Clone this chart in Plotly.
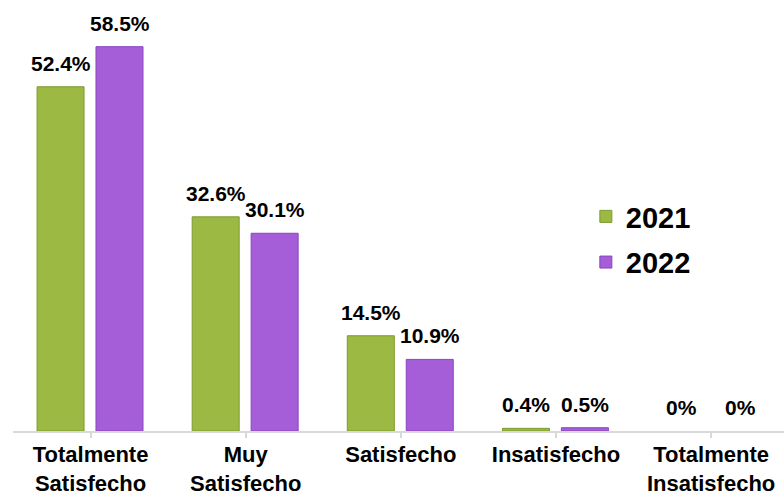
import plotly.graph_objects as go

categories = ["Totalmente<br>Satisfecho", "Muy<br>Satisfecho", "Satisfecho",
              "Insatisfecho", "Totalmente<br>Insatisfecho"]
series_names = ["2021", "2022"]
values_2021 = [52.4, 32.6, 14.5, 0.4, 0.0]
values_2022 = [58.5, 30.1, 10.9, 0.5, 0.0]

colors = ["#9cb944", "#a55ed8"]
lines = ["#7e9a2e", "#8a44c0"]
bar_w = 0.303
offsets = [-0.345, 0.035]
FONT = "Liberation Sans, Arial"

fig = go.Figure()
for name, vals, col, lc, off in zip(series_names, [values_2021, values_2022], colors, lines, offsets):
    fig.add_trace(go.Bar(
        x=list(range(len(categories))), y=vals, name=name, legendgroup=name,
        marker=dict(color=col, line=dict(color=lc, width=[1 if v > 0 else 0 for v in vals])),
        width=bar_w, offset=off,
    ))
    for i, v in enumerate(vals):
        fig.add_annotation(
            x=i + off + bar_w / 2, y=v, xref="x", yref="y",
            text=f"<b>{v:g}%</b>", showarrow=False, yanchor="bottom",
            yshift=10, font=dict(family=FONT, size=21, color="#000000"),
        )

fig.update_layout(
    width=784, height=495,
    margin=dict(l=13, r=0, t=4, b=64, autoexpand=False),
    plot_bgcolor="white", paper_bgcolor="white",
    barmode="overlay",
    showlegend=True,
    legend=dict(
        x=0.743, y=0.562, xanchor="left", yanchor="top",
        font=dict(family=FONT, size=29, color="#000000", weight="bold"),
        itemwidth=30, traceorder="grouped", tracegroupgap=5,
        bgcolor="rgba(0,0,0,0)",
    ),
    xaxis=dict(
        tickmode="array", tickvals=list(range(len(categories))),
        ticktext=[f"<b>{c}</b>" for c in categories],
        range=[-0.5, 4.47], automargin=False,
        showline=True, linecolor="#d9d9d9", linewidth=2,
        ticks="outside", ticklen=5, tickcolor="#d9d9d9", tickwidth=2,
        tickson="boundaries", ticklabelstandoff=-2,
        tickfont=dict(family=FONT, size=22, color="#000000"),
        showgrid=False, zeroline=False,
    ),
    yaxis=dict(range=[0, 65], visible=False, showgrid=False, zeroline=False, automargin=False),
)

fig.write_html("out.html", config={"displayModeBar": False},
               post_script="document.body.style.margin='0';")
